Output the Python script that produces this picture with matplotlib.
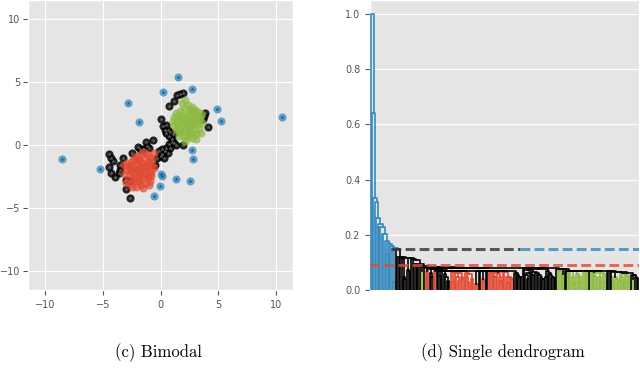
import numpy as np
import matplotlib
matplotlib.use('Agg')
import matplotlib.pyplot as plt

plt.style.use('ggplot')

# colours (ggplot cycle)
RED = '#E24A33'
BLUE = '#348ABD'
GREEN = '#8EBA42'

# points, grouped by colour
red_x = [-3.2, -2.9, -2.75, -2.5, -2.3, -2.05, -1.7, -1.45, -1.2, -0.95, -0.75, -1.05, -1.35,
         -1.6, -1.9, -2.15, -2.45, -2.95, -3.15, -2.7, -2.1, -1.95, -1.55, -1.2, -0.85, -0.6,
         -0.95, -1.35, -1.75, -2.05, -2.4, -2.8, -3.0, -2.6, -2.2, -1.85, -1.5, -1.1, -0.8,
         -0.9, -1.3, -1.7, -2.1, -2.45, -1.55, -1.0, -2.0, -1.75, -0.55, -2.6,
         -1.45, -1.3, -2.3, -1.1, -2.55, -1.85, -0.8, -2.0]
red_y = [-1.6, -1.4, -1.75, -1.3, -1.05, -0.85, -0.75, -0.55, -0.7, -0.95, -1.2, -1.35, -1.15,
         -1.4, -1.25, -1.5, -1.95, -2.0, -2.3, -2.25, -2.0, -1.85, -1.8, -1.75, -1.6, -1.85,
         -2.1, -2.2, -2.35, -2.5, -2.6, -2.75, -3.05, -3.0, -2.85, -2.75, -2.6, -2.5, -2.45,
         -2.85, -3.0, -3.15, -3.3, -3.35, -3.45, -3.2, -1.95, -2.2, -0.6, -1.55,
         -1.7, -2.35, -2.45, -1.55, -2.1, -2.95, -2.25, -1.1]

green_x = [1.85, 2.15, 2.4, 2.7, 2.95, 3.25, 3.5, 3.1, 2.75, 2.45, 2.05, 1.7, 1.35, 1.2, 1.55,
           1.9, 2.25, 2.6, 2.95, 3.3, 3.6, 3.2, 2.8, 2.45, 2.1, 1.75, 1.4, 1.15, 1.5, 1.85,
           2.2, 2.55, 2.9, 3.3, 3.5, 3.1, 2.7, 2.35, 2.0, 1.65, 1.35, 1.6, 2.0, 2.35, 2.75,
           3.05, 2.15, 3.45, 1.05, 2.6,
           2.3, 2.0, 2.65, 1.75, 2.95, 2.45, 3.05, 1.6]
green_y = [3.35, 3.55, 3.2, 3.05, 2.8, 2.65, 2.45, 2.35, 2.55, 2.75, 2.95, 2.7, 2.55, 2.2, 2.3,
           2.4, 2.3, 2.15, 2.05, 2.0, 1.75, 1.65, 1.7, 1.85, 1.9, 1.95, 1.8, 1.55, 1.45, 1.55,
           1.45, 1.4, 1.3, 1.25, 0.95, 0.9, 0.95, 1.05, 1.1, 1.05, 1.15, 0.75, 0.7, 0.6, 0.55,
           0.5, 0.35, 2.25, 1.9, 2.8,
           2.15, 1.75, 1.55, 2.15, 1.9, 0.95, 2.5, 1.2]

black_x = [-4.5, -4.35, -4.1, -4.5, -4.3, -3.95, -3.6, -3.55, -3.3, -3.5, -3.05, -3.05, -2.7,
           -2.65, -2.45, -2.0, -1.75, -1.3, -1.2, -0.7, -1.5, -1.0, -0.45, -0.15, 0.0, -0.35,
           0.1, 0.3, 0.15, 0.35, 0.5, 0.65, 0.85, 0.7, 0.95, 1.15, 1.3, 1.0, 0.7, 1.05, 0.5,
           0.85, 0.65, 0.4, 0.45, 0.2, 0.0, 0.7, 1.15, 1.45, 1.65, 1.9, 1.95, 3.8, 3.85, 3.7,
           4.15]
black_y = [-0.7, -1.05, -1.3, -1.75, -2.2, -2.55, -2.2, -1.6, -1.0, -1.95, -2.75, -3.5, -4.2,
           -2.85, -0.65, -0.15, -0.35, 0.25, -0.05, 0.4, -0.3, -0.2, -1.55, -0.5, -0.9, -1.05,
           -0.35, -1.0, -0.75, -0.5, -0.2, -0.6, -0.2, 0.05, 0.2, 0.15, 0.0, 0.45, 0.7, 0.85,
           0.95, 1.05, 1.15, 1.2, 1.55, 1.5, 2.05, 3.1, 3.5, 4.0, 4.05, 4.1, 0.0, 2.3, 2.55,
           2.1, 1.45]

blue_x = [-8.57, -5.29, -2.83, -1.89, 0.17, 1.49, 2.71, 4.86, 5.26, 10.51, 2.74, 2.83, 0.06,
          0.09, -0.03, -0.57, 1.31, 2.51]
blue_y = [-1.13, -1.87, 3.30, 1.82, 4.20, 5.41, 4.41, 2.88, 1.90, 2.19, -0.40, -1.08, -2.30,
          -2.45, -3.27, -4.04, -2.72, -2.85]

# cut levels drawn on the dendrogram
red_cut = 0.09
upper_cut = 0.15

fig = plt.figure(figsize=(6.4, 3.68), dpi=100)
ax1 = fig.add_axes([0.044, 0.212, 0.414, 0.788])
ax2 = fig.add_axes([0.578, 0.212, 0.42, 0.788])

# ---- scatter
ax1.scatter(black_x, black_y, s=34, c='k', alpha=0.85, linewidths=0, zorder=3)
ax1.scatter(black_x, black_y, s=10, c='#666666', marker='*', linewidths=0, zorder=3)
ax1.scatter(red_x, red_y, s=34, c=RED, alpha=0.7, linewidths=0, zorder=3)
ax1.scatter(green_x, green_y, s=34, c=GREEN, alpha=0.7, linewidths=0, zorder=3)
ax1.scatter(blue_x, blue_y, s=34, c=BLUE, alpha=0.75, linewidths=0, zorder=3)
ax1.scatter(blue_x, blue_y, s=12, c='#1f5f8f', marker='*', linewidths=0, zorder=4)
ax1.set_xlim(-11.5, 11.5)
ax1.set_ylim(-11.5, 11.5)
ax1.set_xticks([-10, -5, 0, 5, 10])
ax1.set_yticks([-10, -5, 0, 5, 10])

# ---- single linkage done by hand (minimum spanning tree)
pts = np.array(list(zip(red_x, red_y)) + list(zip(green_x, green_y)) +
               list(zip(black_x, black_y)) + list(zip(blue_x, blue_y)))
labels = ['r'] * len(red_x) + ['g'] * len(green_x) + ['k'] * len(black_x) + ['b'] * len(blue_x)
n = len(pts)
D = np.sqrt(((pts[:, None, :] - pts[None, :, :]) ** 2).sum(-1))

in_tree = np.zeros(n, bool)
in_tree[0] = True
best = D[0].copy()
src = np.zeros(n, int)
edges = []
for _ in range(n - 1):
    cand = np.where(in_tree, np.inf, best)
    j = int(np.argmin(cand))
    edges.append((best[j], src[j], j))
    in_tree[j] = True
    upd = D[j] < best
    best = np.where(upd, D[j], best)
    src = np.where(upd, j, src)
edges.sort()

parent = list(range(n))
def find(a):
    while parent[a] != a:
        parent[a] = parent[parent[a]]
        a = parent[a]
    return a

node_of = list(range(n))
children = {}
height = {i: 0.0 for i in range(n)}
size = {i: 1 for i in range(n)}
xsum = {i: pts[i, 0] for i in range(n)}
leafset = {i: {labels[i]} for i in range(n)}
new_id = n
for d, a, b in edges:
    ra, rb = find(a), find(b)
    na, nb = node_of[ra], node_of[rb]
    children[new_id] = (na, nb)
    height[new_id] = d
    size[new_id] = size[na] + size[nb]
    xsum[new_id] = xsum[na] + xsum[nb]
    leafset[new_id] = leafset[na] | leafset[nb]
    parent[rb] = ra
    node_of[ra] = new_id
    new_id += 1
root = new_id - 1
hmax = height[root]

def link_colour(node):
    s = leafset[node]
    if 'b' in s:
        return BLUE
    if s == {'r'}:
        return RED
    if s == {'g'}:
        return GREEN
    return 'k'

counter = [0]
def draw(node):
    if node < n:
        x = counter[0] * 10 + 5
        counter[0] += 1
        return x
    a, b = children[node]
    # small branches to the left, big ones ordered west to east
    if min(size[a], size[b]) < 6:
        if size[a] > size[b]:
            a, b = b, a
    elif xsum[a] / size[a] > xsum[b] / size[b]:
        a, b = b, a
    xa = draw(a)
    xb = draw(b)
    h = height[node] / hmax
    ax2.plot([xa, xa, xb, xb], [height[a] / hmax, h, h, height[b] / hmax],
             color=link_colour(node), lw=1.2, zorder=3)
    return (xa + xb) / 2

draw(root)
dash = (0, (3.2, 1.4))
ax2.axhline(red_cut, color=RED, lw=2.2, ls=dash, alpha=0.8, zorder=4)
ax2.axhline(upper_cut, xmin=0.08, xmax=0.56, color='#333333', lw=2.2, ls=dash, alpha=0.8, zorder=4)
ax2.axhline(upper_cut, xmin=0.56, xmax=1.0, color=BLUE, lw=2.2, ls=dash, alpha=0.8, zorder=4)
ax2.set_xlim(0, n * 10)
ax2.set_ylim(0, 1.05)
ax2.set_xticks([])
ax2.set_yticks([0.0, 0.2, 0.4, 0.6, 0.8, 1.0])
ax2.grid(axis='x', visible=False)

for ax in (ax1, ax2):
    ax.tick_params(labelsize=7, colors='#555555')
ax1.tick_params(axis='y', pad=2)

fig.text(0.247, 0.043, '(c) Bimodal', ha='center', va='center', fontsize=12, family='cmr10')
fig.text(0.785, 0.043, '(d) Single dendrogram', ha='center', va='center', fontsize=12, family='cmr10')

fig.savefig('out.png', dpi=100)
